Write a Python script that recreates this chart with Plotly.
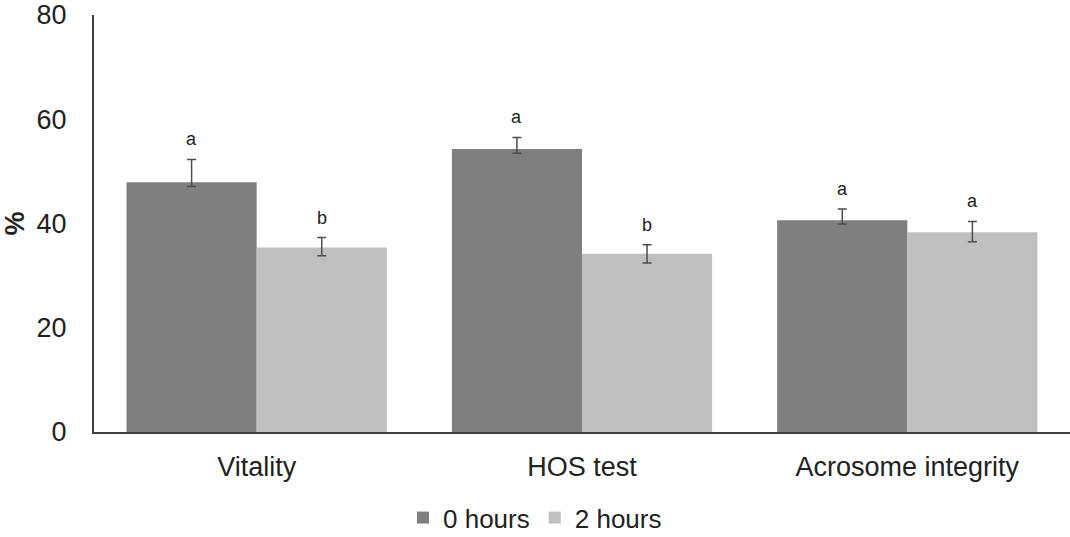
import plotly.graph_objects as go

categories = ["Vitality", "HOS test", "Acrosome integrity"]
series_names = ["0 hours", "2 hours"]
means_0h = [47.9, 54.3, 40.6]
err_plus_0h = [4.4, 2.2, 2.2]
err_minus_0h = [0.8, 0.8, 0.7]
means_2h = [35.4, 34.2, 38.3]
err_plus_2h = [1.9, 1.7, 2.1]
err_minus_2h = [1.6, 1.8, 1.8]
letters_0h = ["a", "a", "a"]
letters_2h = ["b", "b", "a"]
y_ticks = [0, 20, 40, 60, 80]

FONT = "Liberation Sans, Arial, sans-serif"
DARK = "#7f7f7f"
LIGHT = "#bfbfbf"
ERR = "#4d4d4d"

fig = go.Figure()
for name, means, ep, em, color in [
    (series_names[0], means_0h, err_plus_0h, err_minus_0h, DARK),
    (series_names[1], means_2h, err_plus_2h, err_minus_2h, LIGHT),
]:
    fig.add_trace(go.Bar(
        x=categories, y=means, name=name,
        marker=dict(color=color, line=dict(width=0)),
        error_y=dict(type="data", symmetric=False, array=ep, arrayminus=em,
                     color=ERR, thickness=1.5, width=4.5),
    ))

bargap = 0.2
half = (1 - bargap) / 4
annotations = []
for i in range(len(categories)):
    for off, means, ep, letters in [(-half, means_0h, err_plus_0h, letters_0h),
                                    (half, means_2h, err_plus_2h, letters_2h)]:
        annotations.append(dict(
            x=i + off, y=means[i] + ep[i], xref="x", yref="y",
            text=letters[i], showarrow=False, yanchor="bottom", yshift=8,
            font=dict(family=FONT, size=18, color="#222222"),
        ))

fig.update_layout(
    width=1070, height=537,
    margin=dict(l=94, r=0, t=15, b=105, autoexpand=False),
    paper_bgcolor="white", plot_bgcolor="white",
    barmode="group", bargap=bargap, bargroupgap=0,
    font=dict(family=FONT, size=27, color="#222222"),
    showlegend=True,
    legend=dict(orientation="h", xref="container", yref="container",
                x=0.5, xanchor="center", y=0.036, yanchor="middle",
                font=dict(family=FONT, size=26, color="#222222"),
                itemwidth=30, tracegroupgap=0),
    annotations=annotations,
    xaxis=dict(showline=True, linecolor="#404040", linewidth=2,
               ticks="", showgrid=False, ticklabelstandoff=10, automargin=False,
               tickfont=dict(family=FONT, size=27, color="#222222")),
    yaxis=dict(range=[0, 80], tickvals=y_ticks, showline=True,
               linecolor="#404040", linewidth=2, ticks="", showgrid=False,
               zeroline=False, ticklabelstandoff=20, automargin=False,
               tickfont=dict(family=FONT, size=27, color="#222222"),
               title=dict(text="<b>%</b>", standoff=14,
                          font=dict(family=FONT, size=27, color="#222222"))),
)

fig.write_html("out.html")
